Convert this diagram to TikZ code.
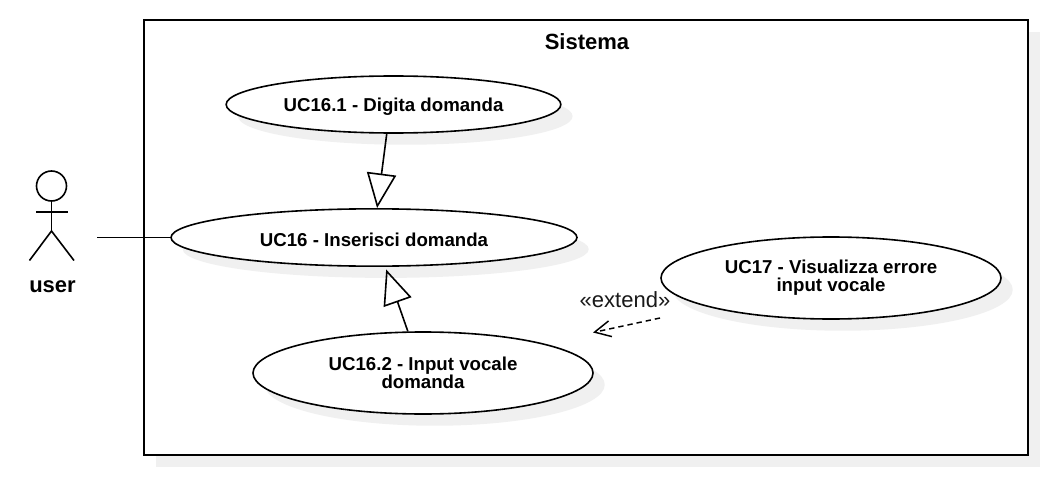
\documentclass[tikz,border=0pt]{standalone}
\usepackage{fontspec}
\setmainfont{Liberation Sans}
\usetikzlibrary{shapes.geometric,arrows.meta,shadows}
\definecolor{shadowc}{HTML}{F0F0F0}
\tikzset{
  px/.style={x=0.75pt,y=-0.75pt},
  softshadow/.style={general shadow={fill=shadowc,draw=none,shadow xshift=8.8pt,shadow yshift=-8.8pt}},
  line/.style={draw=black,line width=1.2pt},
  usecase/.style={ellipse,line,fill=white,softshadow,inner sep=0pt,align=center,font=\fontsize{14}{13.5}\selectfont\bfseries,execute at begin node={\rule{0pt}{14pt}}},
  frame/.style={rectangle,line,fill=white,softshadow,inner sep=0pt,minimum width=663pt,minimum height=326.25pt},
  generalizes/.style={line,-{Triangle[open,length=26pt,width=22pt,line width=1.2pt]}},
  extends/.style={draw=black,line width=1.1pt,dash pattern=on 4pt off 3pt,-{Straight Barb[length=12pt,width=12pt,line width=1.1pt]}},
  bigbold/.style={font=\fontsize{16.5}{18}\selectfont\bfseries,inner sep=0pt},
}
\begin{document}
\begin{tikzpicture}[px]
\useasboundingbox (0,0) rectangle (1043,478);
\node[frame] (sys) at (586,237.5) {};
\node[bigbold] (title) at (587,42) {Sistema};
\node[usecase,minimum width=251pt,minimum height=42.75pt] (uc161) at (393.5,104.5) {UC16.1 - Digita domanda};
\node[usecase,minimum width=304.5pt,minimum height=43pt] (uc16) at (374,237.5) {UC16 - Inserisci domanda};
\node[usecase,minimum width=255pt,minimum height=61.5pt] (uc162) at (423,373) {UC16.2 - Input vocale\\domanda};
\node[usecase,minimum width=255pt,minimum height=61.5pt] (uc17) at (831,278) {UC17 - Visualizza errore\\input vocale};
% actor
\node[circle,line,inner sep=0pt,minimum size=22.5pt] (head) at (51.5,186) {};
\coordinate (hip) at (51.5,231);
\coordinate (armL) at (36,212);
\coordinate (armR) at (68,212);
\coordinate (legL) at (29.5,260.5);
\coordinate (legR) at (74,260.5);
\draw[line] (head.south) -- (hip);
\draw[line] (armL) -- (armR);
\draw[line] (legL) -- (hip) -- (legR);
\node[bigbold] (user) at (52.5,287) {user};
\coordinate (assoc) at (97,237.5);
\draw[line] (assoc) -- (uc16.west);
\draw[generalizes] (uc161.257) -- (uc16.84);
\draw[generalizes,shorten >=2pt] (uc162.110) -- (uc16.291);
\node[font=\fontsize{16.5}{18}\selectfont,text=black!90,inner sep=0pt] (ext) at (625,300) {«extend»};
\coordinate (extstart) at (660,318);
\coordinate (exttip) at (593,332.5);
\draw[extends] (extstart) -- (exttip);
\end{tikzpicture}
\end{document}
